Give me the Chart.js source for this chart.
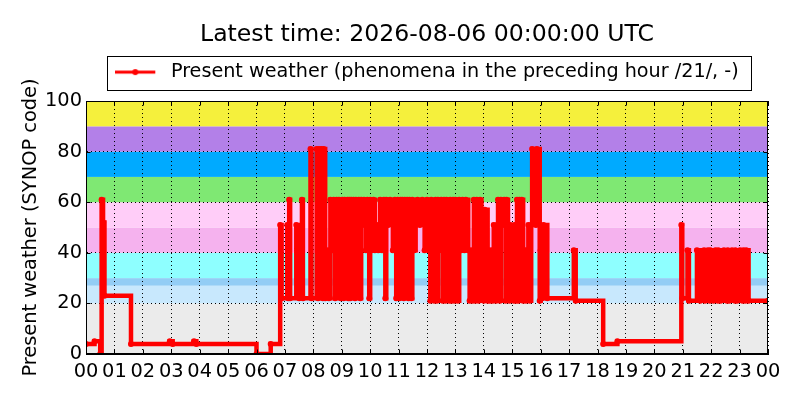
<!DOCTYPE html>
<html>
<head>
<meta charset="utf-8">
<script src="https://cdn.jsdelivr.net/npm/chart.js@4.4.1/dist/chart.umd.min.js"></script>
<style>
  html, body { margin: 0; padding: 0; background: #ffffff; }
  #c { display: block; }
</style>
</head>
<body>
<canvas id="c" width="800" height="400"></canvas>
<script>
// ---------------- DATA ----------------
const titleText = 'Latest time: 2026-08-06 00:00:00 UTC';
const seriesLabel = 'Present weather (phenomena in the preceding hour /21/, -)';
const yAxisTitle = 'Present weather (SYNOP code)';
const hourLabels = ['00','01','02','03','04','05','06','07','08','09','10','11','12',
                    '13','14','15','16','17','18','19','20','21','22','23','00'];
const yTickValues = [0, 20, 40, 60, 80, 100];

// times at which the reported code changes (UTC, HH:MM)
const times = [
 '00:00','00:18','00:30','00:33','00:36','00:39','01:35','02:57','03:03','03:48','03:53','06:00','06:30',
 '06:50','06:53','07:05','07:07','07:09','07:11','07:24','07:30','07:36','07:38','07:54','07:56',
 '08:07','08:10','08:12','08:15','08:17','08:20','08:22','08:25','08:31','08:33','08:36','08:40',
 '08:43','08:46','08:49','08:52','08:54','08:58','09:01','09:04','09:06','09:08','09:12','09:14',
 '09:16','09:18','09:20','09:23','09:25','09:28','09:30','09:33','09:36','09:39','09:41','09:44',
 '09:47','09:51','09:54','09:58','10:00','10:03','10:07','10:10','10:14','10:17','10:21','10:25',
 '10:29','10:32','10:34','10:38','10:42','10:48','10:52','10:55','10:58','11:02','11:04','11:06',
 '11:08','11:11','11:13','11:16','11:18','11:21','11:23','11:27','11:29','11:33','11:36','11:40',
 '11:45','11:50','11:55','12:00','12:04','12:07','12:09','12:12','12:15','12:18','12:21','12:23',
 '12:26','12:30','12:33','12:36','12:39','12:41','12:44','12:47','12:49','12:52','12:55','12:58',
 '13:00','13:03','13:05','13:08','13:12','13:15','13:19','13:22','13:27','13:30','13:33','13:36',
 '13:39','13:42','13:45','13:49','13:52','13:55','14:00','14:02','14:08','14:10','14:13','14:16',
 '14:19','14:21','14:26','14:28','14:30','14:34','14:36','14:40','14:43','14:46','14:48','14:51',
 '14:54','14:56','15:00','15:03','15:05','15:08','15:10','15:13','15:15','15:18','15:20','15:23',
 '15:26','15:29','15:31','15:34','15:37','15:40','15:42','15:50','15:52','15:58','16:00','16:03',
 '16:06','16:14','17:10','17:14','18:12','18:42','20:57','20:59','21:10','21:13',
 '21:30','21:37','21:45','21:47','21:53','21:57','21:58','22:05','22:09','22:14','22:15','22:20',
 '22:27','22:33','22:35','22:38','22:44','22:50','22:51','22:55','23:01','23:06','23:08','23:12',
 '23:14','23:19','24:00'
];
// present weather code (SYNOP ww) from each time on
const values = [
  4, 5, 0, 61, 52, 23, 4, 5, 4, 5, 4, 0, 4,
  51, 22, 51, 22, 61, 22, 51, 22, 61, 22, 81, 22,
  81, 22, 81, 23, 81, 22, 81, 22, 41, 22, 61, 41,
  61, 22, 61, 41, 61, 22, 61, 22, 61, 41, 61, 22,
  61, 22, 61, 41, 61, 22, 61, 41, 61, 22, 61, 51,
  61, 41, 61, 22, 61, 41, 61, 41, 51, 41, 61, 41,
  61, 22, 61, 51, 61, 41, 61, 22, 61, 22, 61, 41,
  61, 22, 61, 41, 61, 22, 61, 22, 61, 41, 51, 61,
  51, 61, 41, 61, 41, 21, 61, 41, 21, 61, 21, 61,
  41, 61, 21, 61, 21, 61, 51, 21, 61, 21, 61, 21,
  61, 57, 21, 61, 41, 61, 41, 61, 41, 21, 41, 21,
  61, 21, 61, 21, 61, 57, 21, 57, 21, 41, 21, 41,
  21, 51, 21, 51, 61, 21, 61, 51, 61, 21, 61, 51,
  21, 51, 41, 21, 51, 21, 61, 21, 61, 41, 61, 21,
  41, 21, 41, 51, 21, 51, 81, 51, 81, 21, 41, 22,
  51, 22, 41, 21, 4, 5, 51, 22, 41, 21,
  41, 21, 41, 21, 41, 21, 41, 21, 41, 21, 41, 21,
  41, 21, 41, 21, 41, 21, 41, 21, 41, 21, 41, 21,
  41, 21, 21
];

// background category bands (SYNOP ww groups)
const bandLows   = [0, 20, 27, 30, 40, 50, 60, 70, 80, 90];
const bandHighs  = [20, 27, 30, 40, 50, 60, 70, 80, 90, 100];
const bandColors = ['#ebebeb', '#c8e8fd', '#93cdf5', '#8effff', '#f5b2ee',
                    '#ffcdf8', '#7fe873', '#00aaff', '#b380e8', '#f5f03c'];

// ---------------- CHART ----------------
const FONT = 'DejaVu Sans';

function toHours(t) {
  const p = t.split(':');
  return parseInt(p[0], 10) + parseInt(p[1], 10) / 60;
}
const points = times.map((t, i) => ({ x: toHours(t), y: values[i] }));

// legend sample: red line with a dot marker
const legendIcon = document.createElement('canvas');
legendIcon.width = 46; legendIcon.height = 10;
(function () {
  const g = legendIcon.getContext('2d');
  g.strokeStyle = '#ff0000'; g.lineWidth = 3;
  g.beginPath(); g.moveTo(0, 5); g.lineTo(40, 5); g.stroke();
  g.fillStyle = '#ff0000';
  g.beginPath(); g.arc(20, 5, 3, 0, Math.PI * 2); g.fill();
})();

const bandPlugin = {
  id: 'bands',
  beforeDraw(chart) {
    const { ctx, chartArea: a, scales: { y } } = chart;
    ctx.save();
    for (let i = 0; i < bandLows.length; i++) {
      const top = y.getPixelForValue(bandHighs[i]);
      const bot = y.getPixelForValue(bandLows[i]);
      ctx.fillStyle = bandColors[i];
      ctx.fillRect(a.left, top, a.right - a.left, bot - top);
    }
    ctx.restore();
  }
};

const framePlugin = {
  id: 'frame',
  afterDraw(chart) {
    const { ctx, chartArea: a, scales: { x, y } } = chart;
    ctx.save();
    ctx.strokeStyle = '#000000';
    ctx.lineWidth = 1;
    const L = Math.round(a.left) + 0.5, R = Math.round(a.right) - 0.5;
    const T = Math.round(a.top) + 0.5, B = Math.round(a.bottom) - 0.5;
    ctx.strokeRect(L, T, R - L, B - T);
    ctx.beginPath();
    for (let v = 0; v < hourLabels.length; v++) {
      const px = Math.round(x.getPixelForValue(v)) + 0.5;
      ctx.moveTo(px, B); ctx.lineTo(px, B - 4);
      ctx.moveTo(px, T); ctx.lineTo(px, T + 4);
    }
    yTickValues.forEach(v => {
      const py = Math.round(y.getPixelForValue(v)) + 0.5;
      ctx.moveTo(L, py); ctx.lineTo(L + 4, py);
      ctx.moveTo(R, py); ctx.lineTo(R - 4, py);
    });
    ctx.stroke();
    // legend frame
    const hb = chart.legend && chart.legend.legendHitBoxes && chart.legend.legendHitBoxes[0];
    if (hb) {
      ctx.strokeRect(Math.round(hb.left - 8) + 0.5, Math.round(hb.top - 7) + 0.5,
                     Math.round(hb.width + 21), Math.round(hb.height + 15));
    }
    ctx.restore();
  }
};

new Chart(document.getElementById('c'), {
  type: 'line',
  data: {
    datasets: [{
      label: seriesLabel,
      data: points,
      borderColor: '#ff0000',
      backgroundColor: '#ff0000',
      borderWidth: 4.5,
      pointRadius: 3,
      pointBorderWidth: 0,
      pointHoverRadius: 3,
      stepped: true,
      fill: false
    }]
  },
  options: {
    responsive: false,
    animation: false,
    events: [],
    layout: { padding: { left: 0, right: 32, top: 0, bottom: 0 } },
    plugins: {
      title: {
        display: true, text: titleText, fullSize: false, color: '#000000',
        font: { family: FONT, size: 23.6, weight: 'normal' },
        padding: { top: 20.8, bottom: 0 }
      },
      subtitle: {
        display: true, text: '', fullSize: false, weight: 500,
        padding: 0, font: { family: FONT, size: 9.3, lineHeight: 1 }
      },
      legend: {
        display: true, fullSize: false,
        labels: {
          usePointStyle: true, pointStyle: legendIcon, pointStyleWidth: 46,
          padding: 13.4, color: '#000000',
          font: { family: FONT, size: 19.2 }
        }
      },
      tooltip: { enabled: false }
    },
    scales: {
      x: {
        type: 'linear', min: 0, max: 24,
        afterFit(s) { s.height = 46; },
        grid: { color: '#000000', lineWidth: 1, drawTicks: false },
        border: { display: true, color: '#000000', dash: [1, 3] },
        ticks: {
          stepSize: 1, autoSkip: false, maxRotation: 0, padding: 6,
          color: '#000000', font: { family: FONT, size: 19.4 },
          callback: (v) => hourLabels[v]
        }
      },
      y: {
        min: 0, max: 100,
        afterFit(s) { s.width = 86; },
        grid: { color: '#000000', lineWidth: 1, drawTicks: false },
        border: { display: true, color: '#000000', dash: [1, 3] },
        ticks: {
          stepSize: 20, padding: 4, color: '#000000',
          font: { family: FONT, size: 19.4 }
        },
        title: {
          display: true, text: yAxisTitle, color: '#000000',
          font: { family: FONT, size: 19.4 },
          padding: { top: 19, bottom: 0 }
        }
      }
    }
  },
  plugins: [bandPlugin, framePlugin]
});
</script>
</body>
</html>
